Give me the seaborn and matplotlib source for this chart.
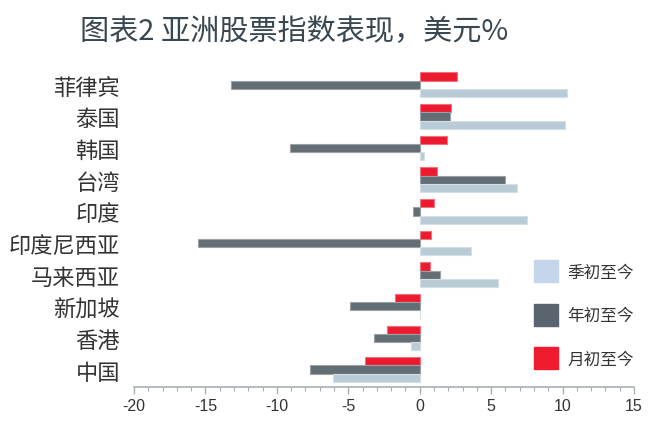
import matplotlib
matplotlib.use("Agg")
import matplotlib.pyplot as plt
import seaborn as sns
import pandas as pd
from matplotlib.patches import Patch
from matplotlib.ticker import MultipleLocator

categories = ["菲律宾", "泰国", "韩国", "台湾", "印度", "印度尼西亚", "马来西亚", "新加坡", "香港", "中国"]
mtd = [2.6, 2.2, 1.9, 1.2, 1.0, 0.8, 0.7, -1.7, -2.3, -3.8]      # 月初至今
ytd = [-13.2, 2.1, -9.1, 6.0, -0.5, -15.5, 1.4, -4.9, -3.2, -7.7]  # 年初至今
qtd = [10.3, 10.2, 0.3, 6.8, 7.5, 3.6, 5.5, 0.0, -0.6, -6.1]      # 季初至今
series = ["月初至今", "年初至今", "季初至今"]
xticks = [-20, -15, -10, -5, 0, 5, 10, 15]

sns.set_theme(style="white")
plt.rcParams["font.family"] = ["Noto Sans CJK SC", "DejaVu Sans"]
plt.rcParams["axes.unicode_minus"] = False

rows = []
for c, m, y, q in zip(categories, mtd, ytd, qtd):
    rows.append((c, series[0], m))
    rows.append((c, series[1], y))
    rows.append((c, series[2], q))
df = pd.DataFrame(rows, columns=["cat", "series", "value"])

bar_colors = {"月初至今": "#ec1a2e", "年初至今": "#636d74", "季初至今": "#b9cbd7"}
edge_colors = {"月初至今": "#f27080", "年初至今": "#9aa2a8", "季初至今": "#d3dee5"}

fig = plt.figure(figsize=(6.6, 4.31), dpi=100)
ax = fig.add_axes([134/660, 1-388/431, 500/660, 318/431])
sns.barplot(data=df, y="cat", x="value", hue="series", order=categories,
            hue_order=series, palette=bar_colors, orient="h", width=0.78,
            ax=ax, legend=False, saturation=1)
for cont, s in zip(ax.containers, series):
    for p in cont:
        p.set_edgecolor(edge_colors[s])
        p.set_linewidth(0.8)

ax.set_xlim(-20, 15)
ax.set_ylim(9.55, -0.5)
ax.set_xticks(xticks)
ax.set_xticklabels([str(t) for t in xticks], family="Liberation Sans", fontsize=11.5, color="#333333")
ax.xaxis.set_minor_locator(MultipleLocator(1))
ax.tick_params(axis="x", which="major", direction="out", length=5, width=1, color="#a8b0b6", bottom=True, pad=3)
ax.tick_params(axis="x", which="minor", direction="out", length=3, width=0.8, color="#a8b0b6", bottom=True)
ax.tick_params(axis="y", length=0, labelsize=16, labelcolor="#333333", pad=10)
ax.set_xlabel("")
ax.set_ylabel("")
for s in ["top", "right", "left"]:
    ax.spines[s].set_visible(False)
ax.spines["bottom"].set_color("#a8b0b6")
ax.spines["bottom"].set_linewidth(1.2)

legend_colors = {"季初至今": "#c5d6ec", "年初至今": "#5a646e", "月初至今": "#ee1c2e"}
handles = [Patch(facecolor=legend_colors[k], edgecolor=legend_colors[k], label=k)
           for k in ["季初至今", "年初至今", "月初至今"]]
fig.legend(handles=handles, loc="upper left", bbox_to_anchor=(519/660, 1-246/431),
           frameon=False, fontsize=12, handlelength=1.45, handleheight=1.65,
           labelspacing=1.3, handletextpad=0.55, labelcolor="#333333")

fig.text(80/660, 1-32/431, "图表2 亚洲股票指数表现，美元%", fontsize=21,
         color="#3a4750", va="center", ha="left")

fig.savefig("out.png", dpi=100)
